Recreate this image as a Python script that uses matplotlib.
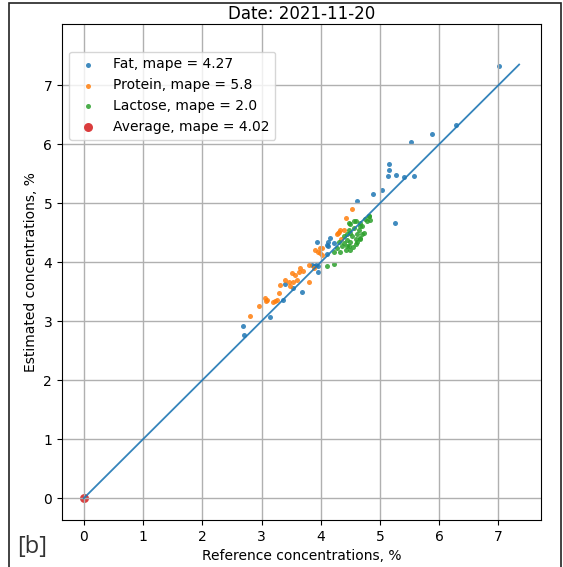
import matplotlib
matplotlib.use("Agg")
import matplotlib.pyplot as plt
from matplotlib.patches import Rectangle

title = "Date: 2021-11-20"
xlabel = "Reference concentrations, %"
ylabel = "Estimated concentrations, %"

fat_ref = [2.68, 2.71, 3.14, 3.37, 3.40, 3.53, 3.68, 3.85, 3.89, 3.92, 3.95, 3.95,
           3.93, 4.10, 4.12, 4.13, 4.15, 4.22, 4.11, 4.61, 4.88, 5.03, 5.13, 5.15,
           5.15, 5.27, 5.41, 5.57, 5.25, 5.52, 5.88, 6.29, 7.01]
fat_est = [2.91, 2.77, 3.07, 3.36, 3.63, 3.56, 3.50, 3.95, 3.93, 3.96, 3.93, 3.83,
           4.34, 4.14, 4.34, 4.27, 4.41, 4.32, 4.29, 5.04, 5.15, 5.23, 5.46, 5.57,
           5.67, 5.48, 5.44, 5.46, 4.66, 6.04, 6.18, 6.32, 7.33]

protein_ref = [2.81, 2.95, 3.06, 3.08, 3.10, 3.20, 3.23, 3.26, 3.29, 3.32, 3.46, 3.51,
               3.54, 3.57, 3.60, 3.63, 3.65, 3.80, 3.80, 3.88, 3.91, 3.96, 3.99, 4.02,
               3.99, 4.02, 4.27, 4.30, 4.33, 4.29, 4.42, 4.53, 3.40, 3.48, 3.70, 4.35,
               4.40]
protein_est = [3.09, 3.25, 3.39, 3.34, 3.36, 3.33, 3.35, 3.36, 3.48, 3.62, 3.67, 3.81,
               3.67, 3.79, 3.70, 3.83, 3.90, 3.67, 3.96, 3.90, 4.20, 4.17, 4.24, 4.13,
               4.15, 4.24, 4.47, 4.52, 4.55, 4.50, 4.75, 4.90, 3.70, 3.60, 3.85, 4.40,
               4.55]

lactose_ref = [4.47, 4.50, 4.59, 4.67, 4.75, 4.81, 4.78, 4.70, 4.64, 4.56, 4.50, 4.61,
               4.70, 4.59, 4.50, 4.45, 4.39, 4.36, 4.47, 4.42, 4.50, 4.33, 4.28, 4.22,
               4.45, 4.39, 4.30, 4.66, 4.73, 4.84, 4.53, 4.47, 4.11, 4.22, 4.81, 4.67,
               4.56, 4.67, 4.45, 4.60, 4.55, 4.62]
lactose_est = [4.67, 4.64, 4.69, 4.67, 4.73, 4.79, 4.69, 4.61, 4.55, 4.58, 4.49, 4.47,
               4.47, 4.39, 4.35, 4.38, 4.32, 4.27, 4.27, 4.21, 4.21, 4.18, 4.24, 4.18,
               4.47, 4.44, 4.35, 4.39, 4.49, 4.72, 4.44, 4.55, 3.94, 3.97, 4.78, 4.61,
               4.69, 4.41, 4.27, 4.30, 4.25, 4.35]

avg_point = [0.0, 0.0]
line_end = 7.35

labels = ["Fat, mape = 4.27", "Protein, mape = 5.8", "Lactose, mape = 2.0",
          "Average, mape = 4.02"]

fig = plt.figure(figsize=(5.63, 5.67), dpi=100)
ax = fig.add_axes([0.110, 0.0829, 0.851, 0.874])

ax.plot([0, line_end], [0, line_end], color="#1f77b4", lw=1.3, alpha=0.9)
ax.scatter(fat_ref, fat_est, s=13, color="#1f77b4", linewidths=0, alpha=0.85,
           label=labels[0])
ax.scatter(protein_ref, protein_est, s=13, color="#ff7f0e", linewidths=0, alpha=0.85,
           label=labels[1])
ax.scatter(lactose_ref, lactose_est, s=13, color="#2ca02c", linewidths=0, alpha=0.85,
           label=labels[2])
ax.scatter([avg_point[0]], [avg_point[1]], s=42, color="#d62728", linewidths=0,
           alpha=0.9, label=labels[3])

ax.set_xlim(-0.37, 7.72)
ax.set_ylim(-0.37, 8.03)
ax.set_xticks(range(0, 8))
ax.set_yticks(range(0, 8))
ax.grid(True, color="#b0b0b0", lw=1.0)
ax.set_title(title, fontsize=12, pad=4)
ax.set_xlabel(xlabel, fontsize=10)
ax.set_ylabel(ylabel, fontsize=10)
ax.legend(loc="upper left", bbox_to_anchor=(0.0146, 0.945), borderaxespad=0,
          fontsize=10)

fig.add_artist(Rectangle((9 / 563, -0.05), (561 - 9) / 563, 1 - 3 / 567 + 0.05,
                         transform=fig.transFigure, fill=False, ec="#222222",
                         lw=1.2))
fig.text(17 / 563, 1 - 547 / 567, "[b]", fontsize=17, family="Open Sans",
         color="#333333", va="center", ha="left")

fig.savefig("out.png", dpi=100)
